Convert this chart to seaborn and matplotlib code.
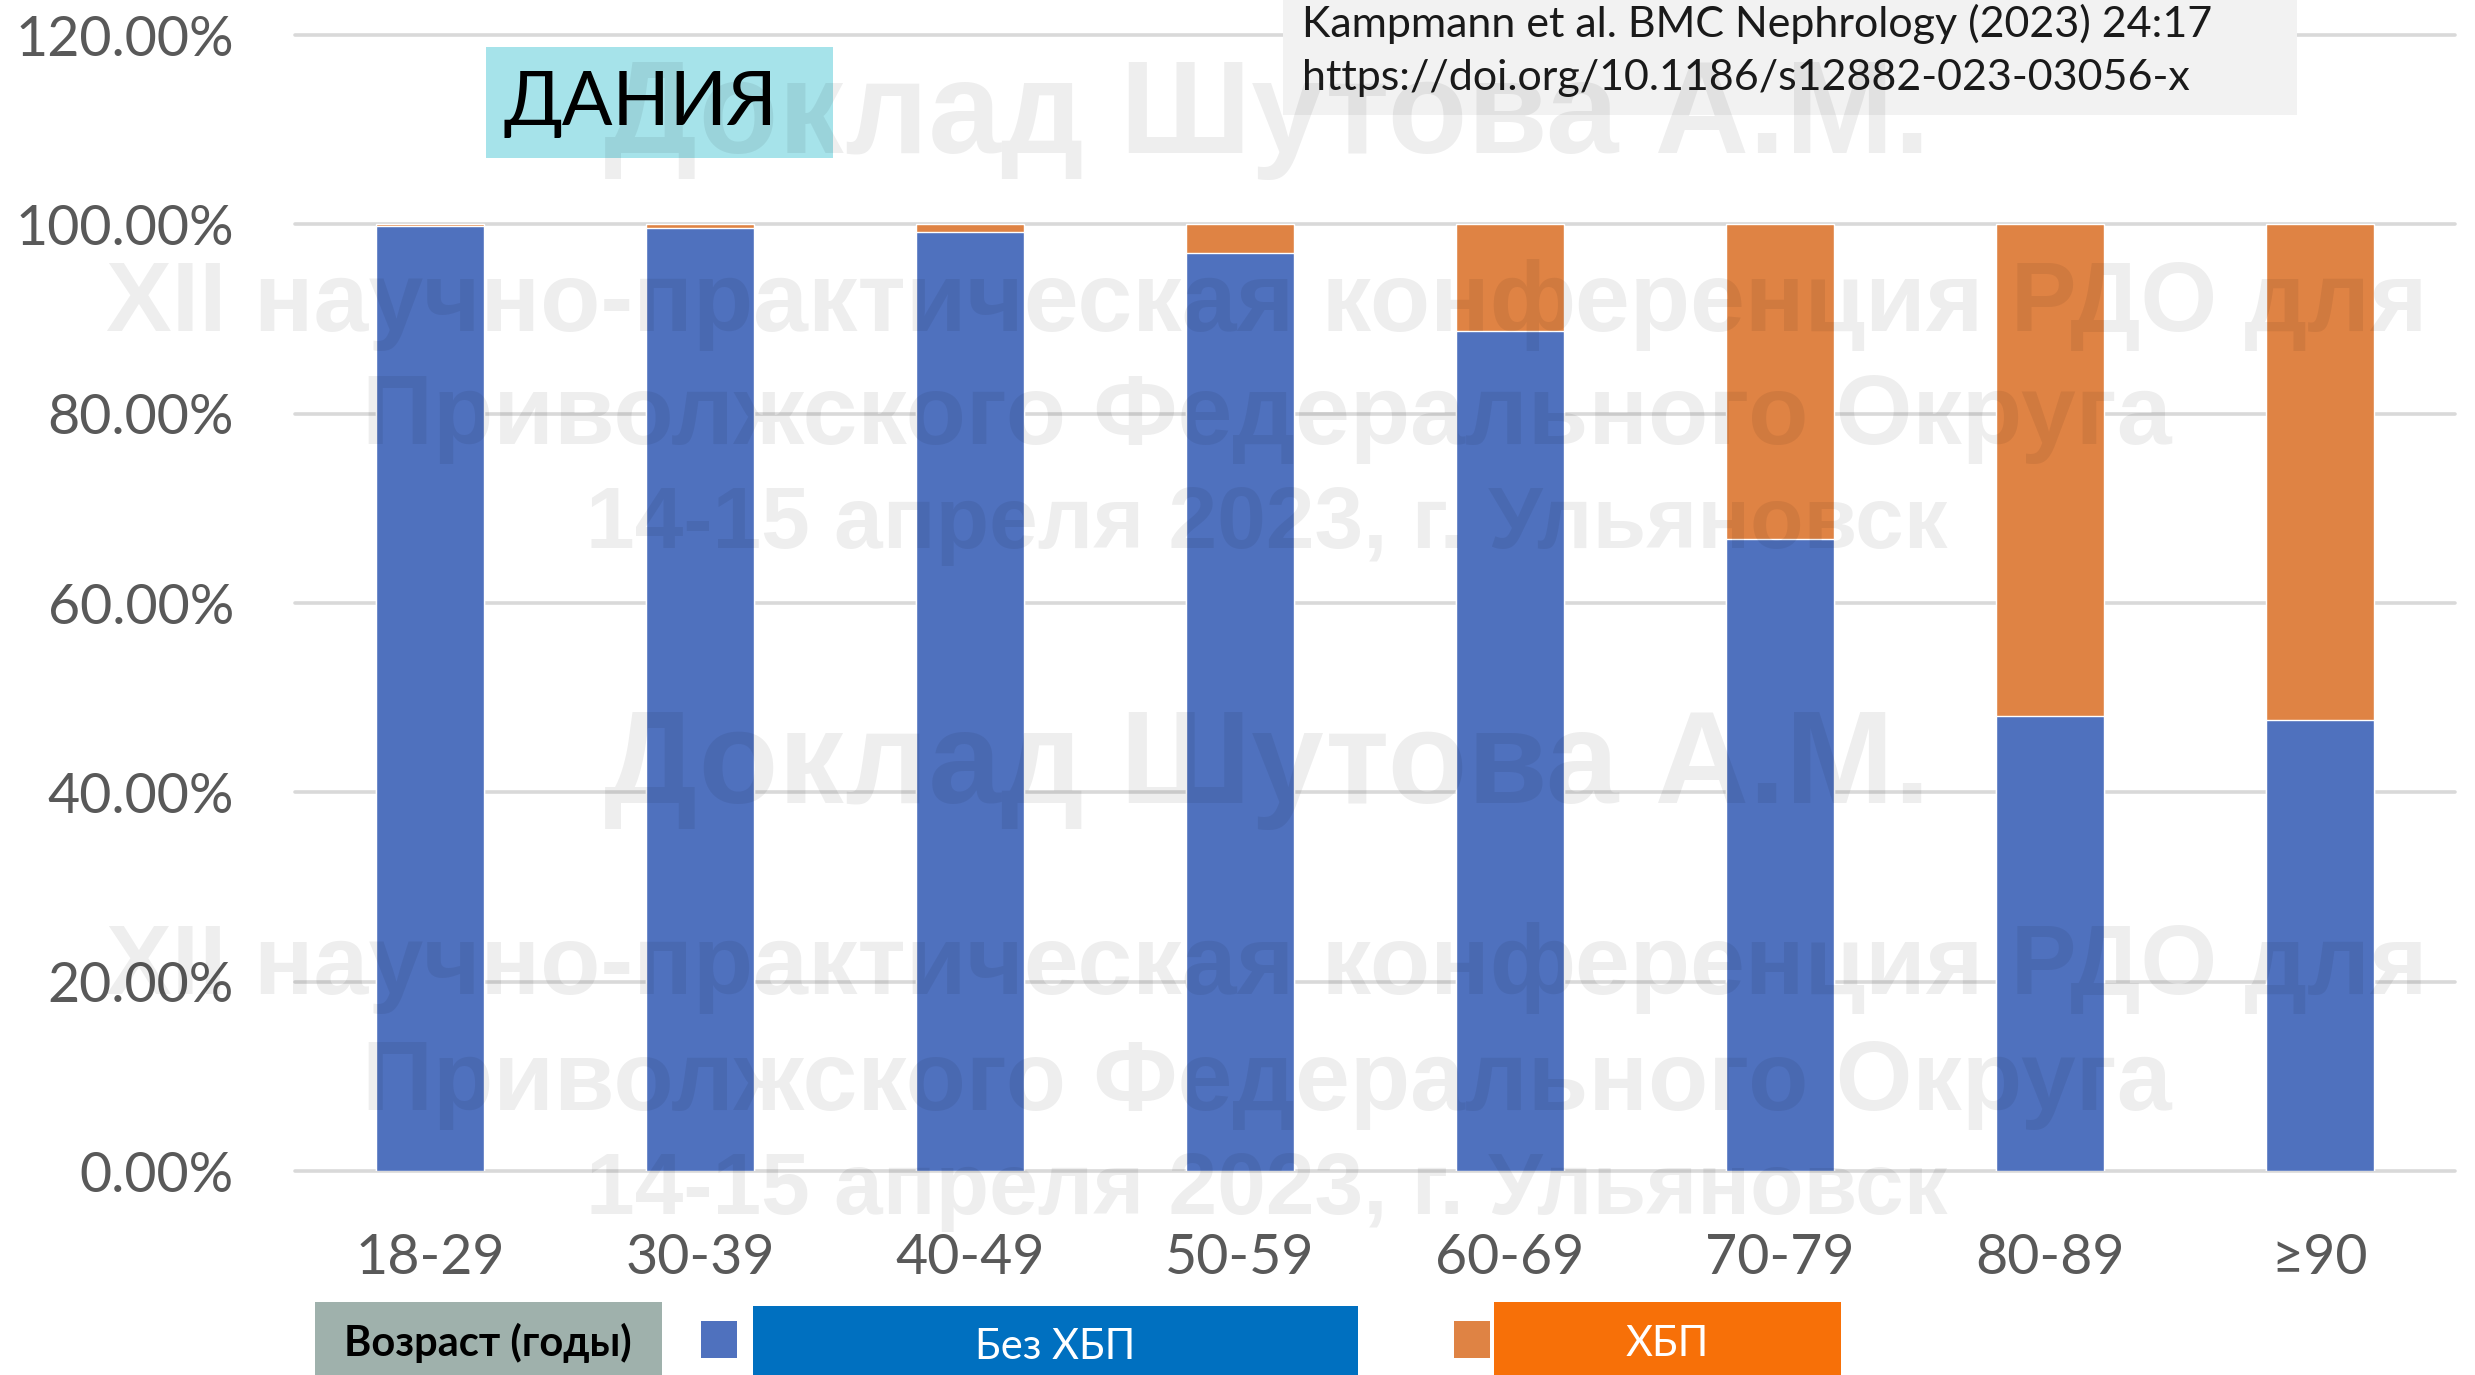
import matplotlib
matplotlib.use("Agg")
import matplotlib.pyplot as plt
import seaborn as sns
import pandas as pd
from matplotlib.patches import Rectangle
from matplotlib.ticker import FuncFormatter, FixedLocator

# ---- data -------------------------------------------------------------
age_groups = ["18-29", "30-39", "40-49", "50-59", "60-69", "70-79", "80-89", "≥90"]
no_ckd = [99.8, 99.6, 99.2, 97.0, 88.7, 66.8, 48.1, 47.6]   # Без ХБП, %
ckd = [0.2, 0.4, 0.8, 3.0, 11.3, 33.2, 51.9, 52.4]          # ХБП, %
y_ticks = [0, 20, 40, 60, 80, 100, 120]

title_text = "ДАНИЯ"
source_lines = ["Kampmann et al. BMC Nephrology (2023) 24:17",
                "https://doi.org/10.1186/s12882-023-03056-x"]
axis_caption = "Возраст (годы)"
series_names = ["Без ХБП", "ХБП"]
watermark_lines = ["Доклад Шутова А.М.",
                   "XII научно-практическая конференция РДО для",
                   "Приволжского Федерального Округа",
                   "14-15 апреля 2023, г. Ульяновск"]

# ---- style ------------------------------------------------------------
BLUE = "#4F71BE"
ORANGE = "#DF8344"
GRID = "#D9D9D9"
TICK = "#595959"

sns.set_theme(style="white")
FONT = ["Lato", "Open Sans", "DejaVu Sans"]
plt.rcParams["font.family"] = FONT

W, H = 2475, 1375
fig = plt.figure(figsize=(W / 100, H / 100), dpi=100)
fig.patch.set_facecolor("white")


def fx(px):
    return px / W


def fy(py):
    return 1 - py / H


ax = fig.add_axes([fx(295), fy(1171), fx(2455 - 295), (1171 - 35) / H])

df = pd.DataFrame({"age": age_groups, "no_ckd": no_ckd, "ckd": ckd})
df["total"] = df["no_ckd"] + df["ckd"]

# stacked bars: full height in orange, the "no CKD" share in blue on top of it
sns.barplot(data=df, x="age", y="total", order=age_groups, color=ORANGE,
            saturation=1, width=0.4, errorbar=None, ax=ax, zorder=3)
sns.barplot(data=df, x="age", y="no_ckd", order=age_groups, color=BLUE,
            saturation=1, width=0.4, errorbar=None, ax=ax, zorder=3)

ax.set_xlim(-0.5, len(age_groups) - 0.5)
ax.set_ylim(0, 120)
ax.yaxis.set_major_locator(FixedLocator(y_ticks))
ax.yaxis.set_major_formatter(FuncFormatter(lambda v, p: f"{v:.2f}%"))
ax.set_xlabel("")
ax.set_ylabel("")
for s in ax.spines.values():
    s.set_visible(False)
ax.grid(False)
ax.yaxis.grid(True, color=GRID, linewidth=2.6, zorder=0)
ax.set_axisbelow(True)
for gl in ax.get_ygridlines():
    gl.set_clip_on(False)
ax.tick_params(axis="y", length=0, pad=44, labelsize=40, labelcolor=TICK)
ax.tick_params(axis="x", length=0, pad=45, labelsize=40, labelcolor=TICK)
ax.set_facecolor("none")


def box(x0, y0, x1, y1, color, z=5):
    fig.add_artist(Rectangle((fx(x0), fy(y1)), fx(x1 - x0), (y1 - y0) / H,
                             transform=fig.transFigure, facecolor=color,
                             edgecolor="none", zorder=z))


# country label
box(486, 47, 833, 158, "#A6E3EA")
fig.text(fx(503), fy(104), title_text, fontsize=54, color="black",
         ha="left", va="center", zorder=6)

# source reference
box(1283, 0, 2297, 115, "#F2F2F2")
fig.text(fx(1302), fy(24), source_lines[0], fontsize=31, color="#1A1A1A",
         ha="left", va="center", zorder=6)
fig.text(fx(1302), fy(78), source_lines[1], fontsize=31, color="#1A1A1A",
         ha="left", va="center", zorder=6)

# bottom key
box(315, 1302, 662, 1375, "#9FB1AC")
fig.text(fx(488), fy(1343), axis_caption, fontsize=30, fontweight="bold",
         color="black", ha="center", va="center", zorder=6)
box(701, 1321, 737, 1358, BLUE)
box(753, 1306, 1358, 1375, "#0070C0")
fig.text(fx(1055), fy(1347), series_names[0], fontsize=30, color="white",
         ha="center", va="center", zorder=6)
box(1454, 1321, 1490, 1358, ORANGE)
box(1494, 1302, 1841, 1375, "#F77008")
fig.text(fx(1667), fy(1344), series_names[1], fontsize=30, color="white",
         ha="center", va="center", zorder=6)

# semi-transparent watermark, printed twice down the slide
wm_sizes = [94, 71, 71, 63]
for block_y in ([118, 305, 418, 526], [768, 968, 1084, 1192]):
    for line, yy, fs in zip(watermark_lines, block_y, wm_sizes):
        fig.text(fx(1267), fy(yy), line, fontsize=fs, fontweight="bold",
                 family=["Liberation Sans", "DejaVu Sans"], color="black",
                 alpha=0.065, ha="center", va="center", zorder=10)

fig.savefig("out.png", dpi=100, facecolor="white")
